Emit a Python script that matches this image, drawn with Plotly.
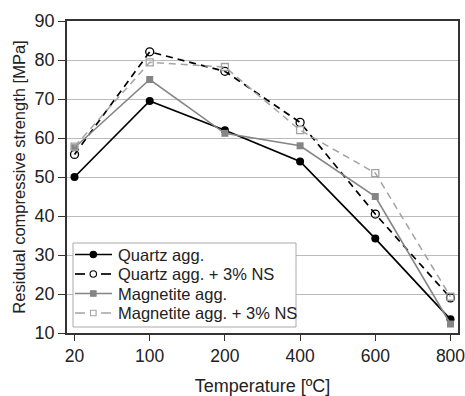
import plotly.graph_objects as go

temperatures = ["20", "100", "200", "400", "600", "800"]
quartz = [50, 69.5, 62, 54, 34.2, 13.5]
quartz_ns = [55.8, 82.1, 77.1, 64, 40.5, 19]
magnetite = [57.5, 75, 61.2, 58, 45, 12.3]
magnetite_ns = [57.8, 79.4, 78.2, 62, 51, 19.3]
series_names = ["Quartz agg.", "Quartz agg. + 3% NS", "Magnetite agg.", "Magnetite agg. + 3% NS"]

W, H = 465, 396
L, R, T, B = 67, 7, 21, 63

styles = [
    dict(color="black", width=1.7, dash="solid", symbol="circle", size=8, fill="black"),
    dict(color="black", width=1.7, dash="7px,5px", symbol="circle-open", size=8, fill="white"),
    dict(color="#858585", width=1.6, dash="solid", symbol="square", size=7, fill="#858585"),
    dict(color="#a3a3a3", width=1.5, dash="7px,5px", symbol="square-open", size=7, fill="white"),
]

fig = go.Figure()
for name, vals, st in zip(series_names, [quartz, quartz_ns, magnetite, magnetite_ns], styles):
    marker = dict(symbol=st["symbol"], size=st["size"], color=st["color"])
    if st["symbol"].endswith("open"):
        marker["line"] = dict(width=1.3)
    fig.add_trace(go.Scatter(x=temperatures, y=vals, name=name, mode="lines+markers",
                             line=dict(color=st["color"], width=st["width"], dash=st["dash"]),
                             marker=marker, showlegend=False))


def px_x(x):
    return (x - L) / (W - L - R)


def px_y(y):
    return (H - B - y) / (H - T - B)


# Legend box drawn in paper coordinates
shapes = [dict(type="rect", xref="paper", yref="paper",
               x0=px_x(73), x1=px_x(296), y0=px_y(243), y1=px_y(327),
               line=dict(color="#aaaaaa", width=1), fillcolor="white", layer="above")]
annotations = []
row_y = [254.5, 274, 293.5, 313]
for name, st, ry in zip(series_names, styles, row_y):
    dashed = st["dash"] != "solid"
    segs = [(75, 85), (101, 111)] if dashed else [(75, 112)]
    for a, b in segs:
        shapes.append(dict(type="line", xref="paper", yref="paper",
                           x0=px_x(a), x1=px_x(b), y0=px_y(ry), y1=px_y(ry),
                           line=dict(color=st["color"], width=st["width"]), layer="above"))
    r = 3.2 if st["symbol"].startswith("circle") else 2.8
    shapes.append(dict(type="circle" if st["symbol"].startswith("circle") else "rect",
                       xref="paper", yref="paper",
                       x0=px_x(93.3 - r), x1=px_x(93.3 + r),
                       y0=px_y(ry + r), y1=px_y(ry - r),
                       line=dict(color=st["color"], width=1.1), fillcolor=st["fill"],
                       layer="above"))
    annotations.append(dict(text=name, xref="paper", yref="paper",
                            x=px_x(116), y=px_y(ry), xanchor="left", yanchor="middle",
                            showarrow=False, font=dict(size=16.5, color="#222")))

font = "Liberation Sans, Arial, sans-serif"
fig.update_layout(
    width=W, height=H,
    margin=dict(l=L, r=R, t=T, b=B, autoexpand=False),
    paper_bgcolor="white", plot_bgcolor="white",
    font=dict(family=font, size=16, color="#222"),
    shapes=shapes, annotations=annotations,
    xaxis=dict(type="category", range=[-0.1, 5.1], showgrid=False, automargin=False,
               showline=True, linecolor="#333", linewidth=1.5, mirror=True,
               ticks="outside", ticklen=6, tickcolor="#333",
               title=dict(text="Temperature [ºC]", font=dict(size=18), standoff=16),
               tickfont=dict(size=17.5)),
    yaxis=dict(range=[10, 90], dtick=10, showgrid=True, gridcolor="#bbbbbb", gridwidth=1.3,
               automargin=False,
               showline=True, linecolor="#333", linewidth=1.5, mirror=True,
               ticks="outside", ticklen=7, tickcolor="#333", zeroline=False,
               title=dict(text="Residual compressive strength [MPa]", font=dict(size=16.5), standoff=5),
               tickfont=dict(size=18)),
)

fig.write_html("out.html")
